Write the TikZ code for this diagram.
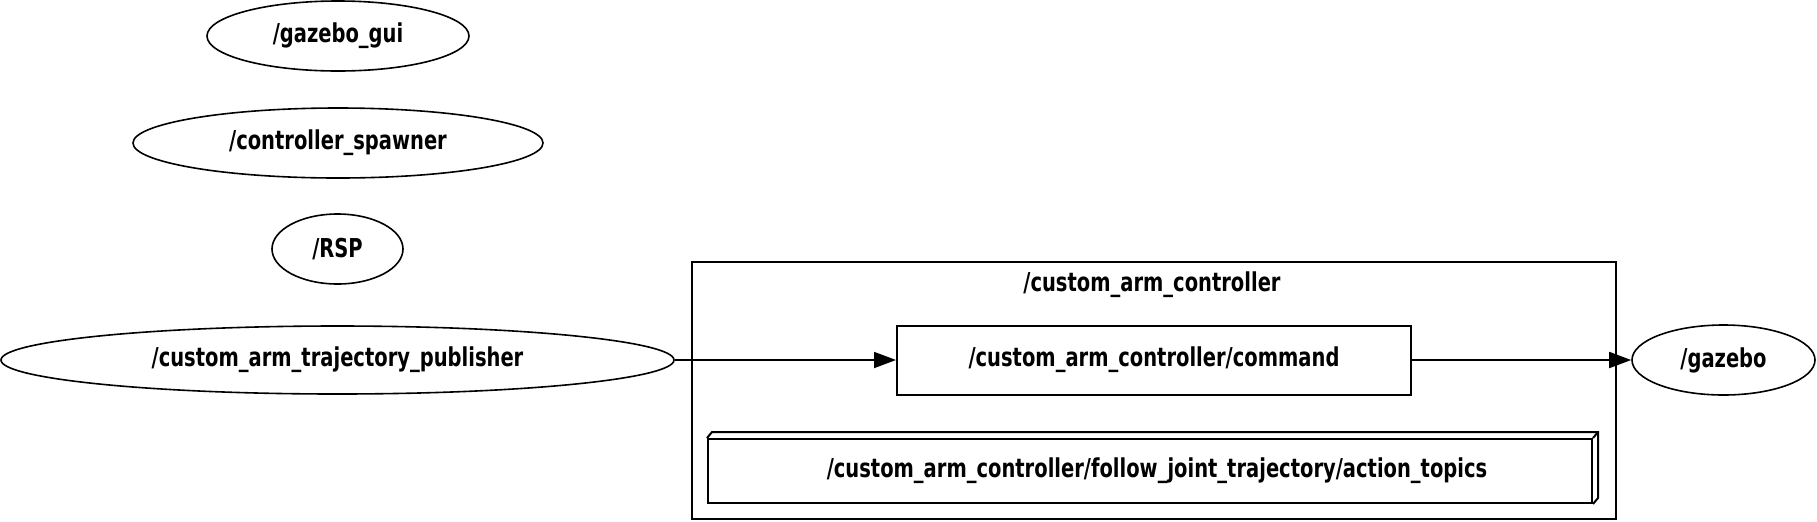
\documentclass[tikz,border=0pt]{standalone}
\usepackage{fontspec}
\setmainfont{DejaVu Sans}[FakeStretch=0.75]
\usetikzlibrary{arrows.meta,positioning,shapes.geometric}

\begin{document}
\begin{tikzpicture}[
      x=0.5pt, y=-0.5pt,
      arr/.style={-{Triangle[length=11pt,width=8pt]}, line width=0.9pt},
      rosnode/.style={draw, ellipse, line width=0.8pt, inner sep=0pt,
                      minimum height=35pt, font=\fontsize{13}{15}\selectfont\bfseries},
      topicbox/.style={draw, rectangle, line width=1pt, inner sep=0pt,
                       font=\fontsize{13}{15}\selectfont\bfseries},
      grouplabel/.style={inner sep=0pt, font=\fontsize{13}{15}\selectfont\bfseries}
    ]
    \useasboundingbox (0,0) rectangle (1817,521);
    % nodes on the left
    \node[rosnode, minimum width=131pt] (gui) at (338,36) {/gazebo\_gui};
    \node[rosnode, minimum width=205pt] (spawner) at (338,143) {/controller\_spawner};
    \node[rosnode, minimum width=65.5pt] (rsp) at (337.5,249) {/RSP};
    \node[rosnode, minimum width=336.5pt, minimum height=34pt] (pub) at (337.5,360) {/custom\_arm\_trajectory\_publisher};
    % controller group
    \node[draw, line width=1pt, inner sep=0pt, minimum width=462pt,
          minimum height=128.5pt] (group) at (1154,390.5) {};
    \node[grouplabel] (grouptitle) at (1152,285) {/custom\_arm\_controller};
    \node[topicbox, minimum width=257pt, minimum height=34.5pt] (cmd) at (1154,360) {/custom\_arm\_controller/command};
    \node[topicbox, minimum width=442pt, minimum height=32pt] (act) at (1150,471)
      {\hspace{7pt}/custom\_arm\_controller/follow\_joint\_trajectory/action\_topics};
    \draw[line width=1pt] (act.north west) -- ++(5,-6) -- ([shift={(5,-6)}]act.north east)
      -- ([shift={(5,-6)}]act.south east) -- (act.south east);
    \draw[line width=1pt] (act.north east) -- ++(5,-6);
    % node on the right
    \node[rosnode, minimum width=91.5pt] (gz) at (1723.5,360) {/gazebo};
    \draw[arr] (pub.east) -- (cmd.west);
    \draw[arr] (cmd.east) -- (gz.west);
  \end{tikzpicture}
\end{document}
